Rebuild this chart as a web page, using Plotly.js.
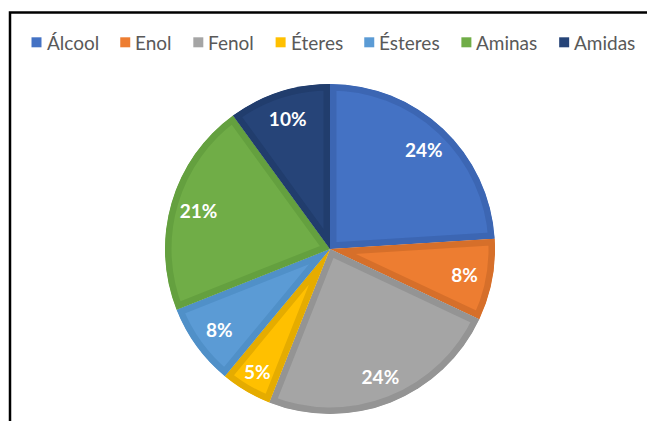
<!DOCTYPE html>
<html><head><meta charset="utf-8">
<script src="https://cdn.plot.ly/plotly-3.0.1.min.js"></script>
<style>html,body{margin:0;padding:0;background:#fff}</style></head>
<body>
<div id="chart" style="width:647px;height:421px"></div>
<script>
const categories = ['Álcool','Enol','Fenol','Éteres','Ésteres','Aminas','Amidas'];
const values = [24, 8, 24, 5, 8, 21, 10];
const fillColors = ['#4472C4','#ED7D31','#A5A5A5','#FFC000','#5B9BD5','#70AD47','#264478'];
const edgeColors = ['#3C66B3','#D66F2A','#949494','#E5AC00','#5090C8','#64A03F','#213D6D'];

const W = 647, H = 421;
const cx = 330, cy = 249, R = 165;
const domain = {x: [(cx - R) / W, (cx + R) / W], y: [1 - (cy + R) / H, 1 - (cy - R) / H]};

const slices = {
  type: 'pie', labels: categories, values: values, sort: false,
  direction: 'clockwise', rotation: 0, domain: domain,
  marker: {colors: fillColors, line: {color: edgeColors, width: 13}},
  textinfo: 'none', hoverinfo: 'skip', showlegend: false
};
const labelsRing = {
  type: 'pie', labels: categories, values: values, sort: false,
  direction: 'clockwise', rotation: 0, domain: domain, hole: 0.66,
  marker: {colors: categories.map(() => 'rgba(0,0,0,0)'), line: {width: 0}},
  texttemplate: '%{percent:.0%}', textposition: 'inside',
  insidetextorientation: 'horizontal',
  textfont: {family: 'Lato', size: 19, color: '#ffffff', weight: 'bold'},
  hoverinfo: 'skip', showlegend: false
};

// custom one-row legend built from the category and colour arrays
const legFont = 19;
const ctx = document.createElement('canvas').getContext('2d');
ctx.font = legFont + 'px Lato';
const annotations = [], shapes = [];
shapes.push({type: 'rect', xref: 'paper', yref: 'paper', x0: 10 / W, x1: 1.05,
  y0: 1 - 12.5 / H, y1: -0.05, line: {color: '#000000', width: 2.5}, fillcolor: 'rgba(0,0,0,0)'});
let sx = 31.5;
const legY = 42.3;
categories.forEach((c, i) => {
  shapes.push({type: 'rect', xref: 'paper', yref: 'paper',
    x0: sx / W, x1: (sx + 10) / W, y0: 1 - (legY - 5) / H, y1: 1 - (legY + 5) / H,
    fillcolor: fillColors[i], line: {width: 0}});
  annotations.push({text: c, xref: 'paper', yref: 'paper', x: (sx + 13) / W, y: 1 - legY / H,
    xanchor: 'left', yanchor: 'middle', showarrow: false,
    font: {family: 'Lato', size: legFont, color: '#595959'}});
  sx += 14 + ctx.measureText(c).width + 22.5;
});

const layout = {
  width: W, height: H, margin: {l: 0, r: 0, t: 0, b: 0},
  paper_bgcolor: '#ffffff', showlegend: false,
  shapes: shapes, annotations: annotations
};

Plotly.newPlot('chart', [slices, labelsRing], layout, {staticPlot: true, displayModeBar: false}).then(gd => {
  // keep each slice's edge stroke inside its own wedge (Excel-like inner border)
  const svg = gd.querySelector('svg.main-svg');
  const ns = 'http://www.w3.org/2000/svg';
  let defs = svg.querySelector('defs');
  if (!defs) { defs = document.createElementNS(ns, 'defs'); svg.insertBefore(defs, svg.firstChild); }
  const firstTrace = gd.querySelectorAll('.pielayer .trace')[0];
  firstTrace.querySelectorAll('.slice path.surface').forEach((p, i) => {
    const cp = document.createElementNS(ns, 'clipPath');
    cp.setAttribute('id', 'sliceclip' + i);
    const pp = document.createElementNS(ns, 'path');
    pp.setAttribute('d', p.getAttribute('d'));
    cp.appendChild(pp);
    defs.appendChild(cp);
    p.setAttribute('clip-path', 'url(#sliceclip' + i + ')');
  });
});
</script>
</body></html>
